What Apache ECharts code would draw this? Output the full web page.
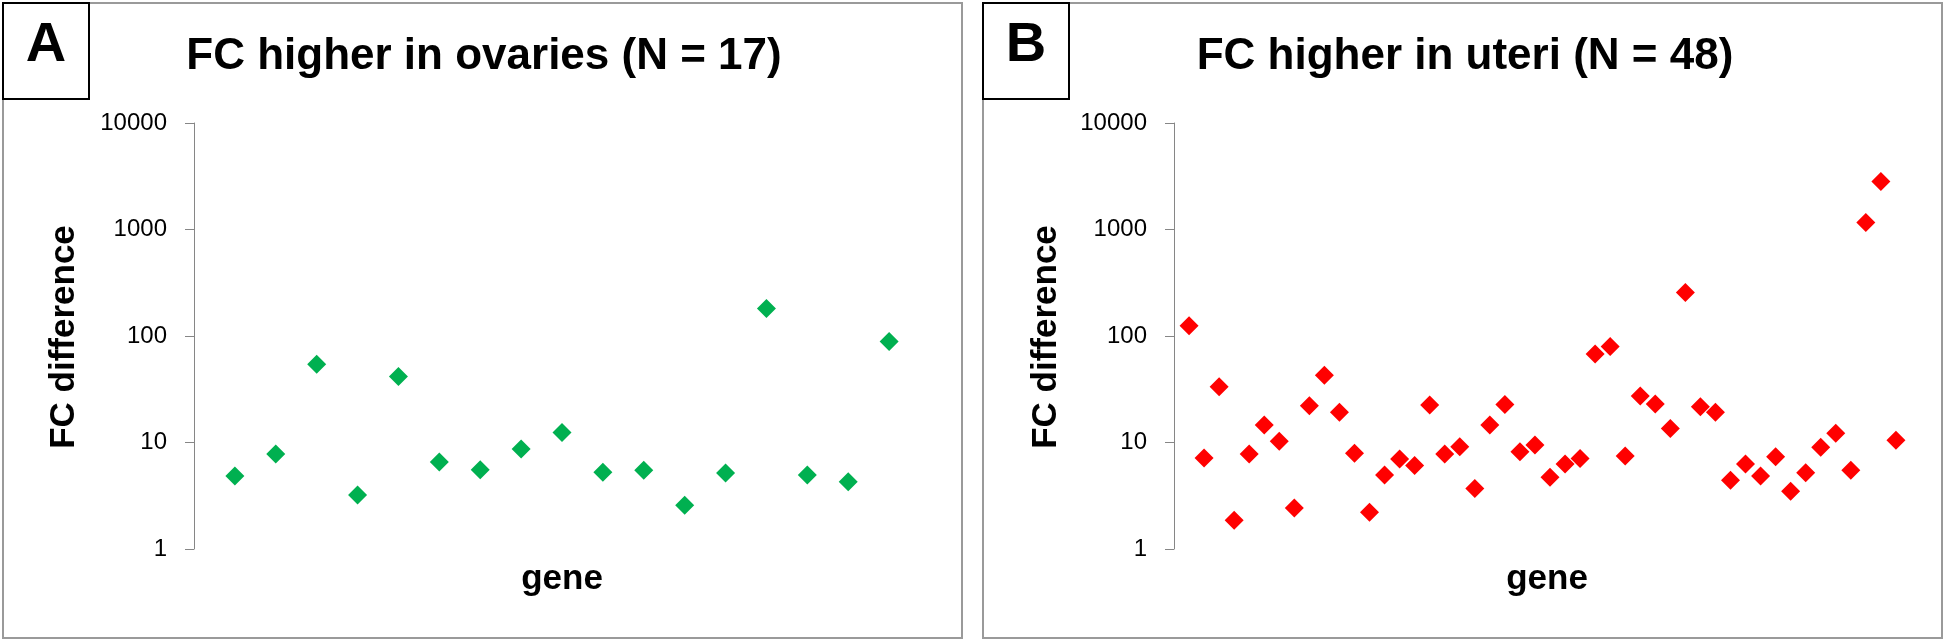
<!DOCTYPE html>
<html>
<head>
<meta charset="utf-8">
<script src="https://cdn.jsdelivr.net/npm/echarts@6/dist/echarts.min.js"></script>
<style>
html,body{margin:0;padding:0;background:#fff;}
#chart{width:1946px;height:641px;}
</style>
</head>
<body>
<div id="chart"></div>
<script>
// Panel A: FC higher in ovaries (N = 17)
var valuesA = [4.85, 7.8, 54.4, 3.22, 41.6, 6.57, 5.56, 8.7, 12.4, 5.26, 5.49, 2.57, 5.18, 181, 4.96, 4.29, 88.7];
// Panel B: FC higher in uteri (N = 48)
var valuesB = [124.5, 7.16, 33.3, 1.86, 7.8, 14.6, 10.3, 2.43, 22.1, 42.9, 19.2, 7.93, 2.21, 4.96, 7.01, 6.07,
               22.5, 7.8, 9.14, 3.69, 14.6, 22.7, 8.2, 9.49, 4.72, 6.29, 7.06, 67.9, 79.6, 7.48, 27.4, 23.0,
               13.5, 256, 21.7, 19.2, 4.42, 6.29, 4.85, 7.36, 3.48, 5.21, 9.02, 12.2, 5.49, 1164, 2826, 10.5];
var yTickLabels = ['1', '10', '100', '1000', '10000'];
var titleA = 'FC higher in ovaries (N = 17)';
var titleB = 'FC higher in uteri (N = 48)';
var yName = 'FC difference';
var xName = 'gene';

function toPoints(arr) { return arr.map(function (v, i) { return [i + 1, v]; }); }

var chart = echarts.init(document.getElementById('chart'), null, { renderer: 'canvas' });

var axisGray = '#868686';
function yAxisFor(gridIndex) {
  return {
    type: 'log', logBase: 10, gridIndex: gridIndex,
    min: 1, max: 10000, interval: 1,
    axisLine: { show: true, lineStyle: { color: axisGray, width: 1 } },
    axisTick: { show: true, length: 9, lineStyle: { color: axisGray, width: 1 } },
    splitLine: { show: false },
    minorTick: { show: false },
    axisLabel: {
      margin: 27, fontSize: 24, color: '#000', fontFamily: 'Liberation Sans, Arial, sans-serif',
      formatter: function (v) {
        var s = String(Math.round(v));
        return yTickLabels.indexOf(s) >= 0 ? s : '';
      }
    }
  };
}

var font = 'Liberation Sans, Arial, sans-serif';
var panelBorder = '#9a9a9a';

var option = {
  backgroundColor: '#fff',
  animation: false,
  grid: [
    { left: 194, top: 123, width: 736, height: 426 },
    { left: 1174, top: 123, width: 752, height: 426 }
  ],
  xAxis: [
    { type: 'value', gridIndex: 0, min: 0, max: 18, show: false },
    { type: 'value', gridIndex: 1, min: 0, max: 50, show: false }
  ],
  yAxis: [yAxisFor(0), yAxisFor(1)],
  series: [
    { type: 'scatter', xAxisIndex: 0, yAxisIndex: 0, symbol: 'diamond', symbolSize: 19,
      itemStyle: { color: '#00B050', opacity: 1 }, data: toPoints(valuesA) },
    { type: 'scatter', xAxisIndex: 1, yAxisIndex: 1, symbol: 'diamond', symbolSize: 19,
      itemStyle: { color: '#FF0000', opacity: 1 }, data: toPoints(valuesB) }
  ],
  graphic: [
    // panel borders
    { type: 'rect', shape: { x: 3, y: 3, width: 959, height: 635 }, style: { fill: 'none', stroke: panelBorder, lineWidth: 2 }, z: 0 },
    { type: 'rect', shape: { x: 983, y: 3, width: 959, height: 635 }, style: { fill: 'none', stroke: panelBorder, lineWidth: 2 }, z: 0 },
    // label boxes
    { type: 'rect', shape: { x: 3, y: 3, width: 86, height: 96 }, style: { fill: '#fff', stroke: '#000', lineWidth: 2 }, z: 1 },
    { type: 'rect', shape: { x: 983, y: 3, width: 86, height: 96 }, style: { fill: '#fff', stroke: '#000', lineWidth: 2 }, z: 1 },
    { type: 'text', x: 46, y: 46, z: 2, style: { text: 'A', font: 'bold 56px ' + font, fill: '#000', align: 'center', verticalAlign: 'middle' } },
    { type: 'text', x: 1026, y: 46, z: 2, style: { text: 'B', font: 'bold 56px ' + font, fill: '#000', align: 'center', verticalAlign: 'middle' } },
    // titles
    { type: 'text', x: 484, y: 57, style: { text: titleA, font: 'bold 44px ' + font, fill: '#000', align: 'center', verticalAlign: 'middle' } },
    { type: 'text', x: 1465, y: 57, style: { text: titleB, font: 'bold 44px ' + font, fill: '#000', align: 'center', verticalAlign: 'middle' } },
    // y axis names
    { type: 'text', x: 64.6, y: 337, rotation: Math.PI / 2, style: { text: yName, font: 'bold 35px ' + font, fill: '#000', align: 'center', verticalAlign: 'middle' } },
    { type: 'text', x: 1046.4, y: 337, rotation: Math.PI / 2, style: { text: yName, font: 'bold 35px ' + font, fill: '#000', align: 'center', verticalAlign: 'middle' } },
    // x axis names
    { type: 'text', x: 562, y: 579, style: { text: xName, font: 'bold 35px ' + font, fill: '#000', align: 'center', verticalAlign: 'middle' } },
    { type: 'text', x: 1547, y: 579, style: { text: xName, font: 'bold 35px ' + font, fill: '#000', align: 'center', verticalAlign: 'middle' } }
  ]
};
chart.setOption(option);
</script>
</body>
</html>
